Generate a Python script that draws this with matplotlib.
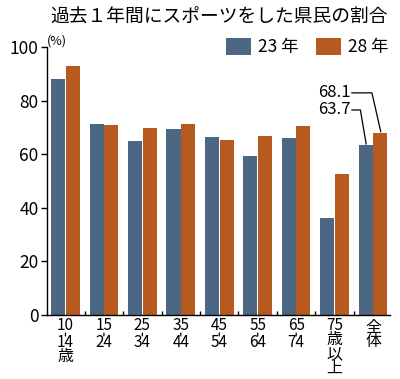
import matplotlib
matplotlib.use("Agg")
from matplotlib import pyplot as plt
from matplotlib.transforms import blended_transform_factory, offset_copy
import numpy as np

plt.rcParams['font.family'] = ['Noto Sans CJK JP', 'DejaVu Sans']

title = "過去１年間にスポーツをした県民の割合"
groups = ["10\n14\n歳", "15\n24", "25\n34", "35\n44", "45\n54", "55\n64", "65\n74", "75\n歳\n以\n上", "全\n体"]
ranged = [True, True, True, True, True, True, True, False, False]
y23 = [88.1, 71.4, 65.0, 69.4, 66.6, 59.5, 66.1, 36.4, 63.7]
y28 = [93.2, 70.9, 69.8, 71.4, 65.4, 67.0, 70.5, 52.5, 68.1]
series_labels = ["23 年", "28 年"]
blue = "#4c6784"
orange = "#b65a1f"

fig = plt.figure(figsize=(4, 3.79), dpi=100)
ax = fig.add_axes([0.1175, 0.169, 0.8575, 0.706])

x = np.arange(len(groups))
w = 0.365
ax.bar(x - 0.19, y23, w, color=blue, label=series_labels[0])
ax.bar(x + 0.19, y28, w, color=orange, label=series_labels[1])

ax.set_xlim(-0.48, 8.44)
ax.set_ylim(0, 100)
for s in ["top", "right"]:
    ax.spines[s].set_visible(False)
ax.spines["left"].set_linewidth(1.0)
ax.spines["bottom"].set_linewidth(1.0)

ax.set_yticks([0, 20, 40, 60, 80, 100])
ax.tick_params(axis="y", labelsize=12.5, length=4, width=1, pad=2)
ax.set_xticks(x)
ax.set_xticklabels([])
ax.tick_params(axis="x", which="major", length=0)
ax.set_xticks(x[:-1] + 0.5, minor=True)
ax.tick_params(axis="x", which="minor", direction="in", length=3, width=1)

# category labels below the axis, written vertically line by line (baselines in points)
tr = blended_transform_factory(ax.transData, ax.transAxes)
for i, lab in enumerate(groups):
    lines = lab.split("\n")
    y = 10.8 if lines[0][0].isdigit() else 12.2
    for j, ln in enumerate(lines):
        if j > 0:
            both_digits = lines[j - 1][0].isdigit() and ln[0].isdigit()
            y += 12.2 if both_digits else 10.4
        t = offset_copy(tr, fig=fig, y=-y, units="points")
        size = 11 if ln[0].isdigit() else 11.5
        ax.text(i, 0, ln, transform=t, ha="center", va="baseline", fontsize=size)
    if ranged[i]:
        # short vertical dash between start and end age
        ax.annotate("", xy=(i, 0), xycoords=offset_copy(tr, fig=fig, y=-13.0, units="points"),
                    xytext=(0, -2.1), textcoords="offset points",
                    arrowprops=dict(arrowstyle="-", lw=0.9, color="black",
                                    shrinkA=0, shrinkB=0))

ax.text(0.0, 1.0, "(%)", transform=ax.transAxes, fontsize=9, ha="left", va="bottom")

fig.text(0.125, 0.955, title, fontsize=13.5, ha="left", va="center")

leg = ax.legend(loc="lower right", bbox_to_anchor=(1.02, 0.935), ncol=2, frameon=False,
                fontsize=12.5, handlelength=1.45, handleheight=1.15, handletextpad=0.4,
                columnspacing=1.0, borderpad=0)

# callouts for 全体
k = len(groups) - 1
ax.plot([k - 0.55, k - 0.03, k + 0.2], [83, 83, y28[k] + 0.4], color="black", lw=0.9, clip_on=False)
ax.plot([k - 0.55, k - 0.33, k - 0.18], [76.6, 76.6, y23[k] + 0.2], color="black", lw=0.9, clip_on=False)
ax.text(k - 0.58, 83, f"{y28[k]:.1f}", fontsize=12, ha="right", va="center")
ax.text(k - 0.58, 76.6, f"{y23[k]:.1f}", fontsize=12, ha="right", va="center")

fig.savefig("out.png", dpi=100)
